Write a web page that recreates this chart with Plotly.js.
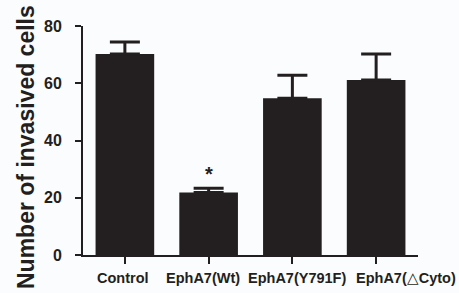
<!DOCTYPE html>
<html>
<head>
<meta charset="utf-8">
<script src="https://cdn.plot.ly/plotly-3.0.1.min.js"></script>
<style>html,body{margin:0;padding:0;background:#fbfcfd;}#chart{width:459px;height:293px;}</style>
</head>
<body>
<div id="chart"></div>
<script>
const categories = ["Control", "EphA7(Wt)", "EphA7(Y791F)", "EphA7(\u25B3Cyto)"];
const values = [70.2, 21.8, 54.8, 61.1];
const errors = [4.2, 1.5, 8.0, 9.1];
const yTicks = [0, 20, 40, 60, 80];
const significance = ["", "*", "", ""];
const yTitle = "Number of invasived cells";

const dark = "#231f20";
const fontFam = "Liberation Sans, Arial, Helvetica, sans-serif";
// label offsets (px) as laid out in the original figure
const labelShift = [-2, -6, 5, 30];

const trace = {
  type: "bar",
  x: categories,
  y: values,
  width: 0.7,
  marker: {color: dark, line: {width: 0}},
  error_y: {
    type: "data",
    symmetric: false,
    array: errors,
    arrayminus: errors.map(() => 0),
    color: dark,
    thickness: 3,
    width: 15
  },
  hoverinfo: "none"
};

const boldLabel = c => "<b>" + c.replace("\u25B3", "</b>\u25B3<b>") + "</b>";

const annotations = [];
categories.forEach((c, i) => {
  annotations.push({
    x: c, y: 0, xref: "x", yref: "paper",
    text: boldLabel(c), showarrow: false,
    xanchor: "center", yanchor: "middle",
    xshift: labelShift[i], yshift: -23,
    font: {family: fontFam, size: 14.5, color: dark}
  });
  if (significance[i]) {
    annotations.push({
      x: c, y: values[i] + errors[i], xref: "x", yref: "y",
      text: "<b>" + significance[i] + "</b>", showarrow: false, yshift: 14,
      font: {family: fontFam, size: 20, color: dark}
    });
  }
});
annotations.push({
  x: 0, y: 0.4716, xref: "paper", yref: "paper",
  text: "<b>" + yTitle + "</b>", textangle: -90, showarrow: false,
  xanchor: "center", yanchor: "middle", xshift: -57,
  font: {family: fontFam, size: 23, color: dark}
});

const layout = {
  width: 459, height: 293,
  margin: {l: 83, r: 41, t: 26, b: 38},
  paper_bgcolor: "#fbfcfd",
  plot_bgcolor: "#fbfcfd",
  showlegend: false,
  bargap: 0.3,
  xaxis: {
    type: "category",
    range: [-0.5, 3.5],
    showticklabels: false,
    showline: true, linecolor: dark, linewidth: 2,
    ticks: "outside", ticklen: 7, tickwidth: 2, tickcolor: dark,
    showgrid: false, zeroline: false
  },
  yaxis: {
    range: [0, 80],
    tickvals: yTicks,
    ticktext: yTicks.map(v => "<b>" + v + "</b>"),
    showline: true, linecolor: dark, linewidth: 2,
    ticks: "outside", ticklen: 6, tickwidth: 2, tickcolor: dark,
    showgrid: false, zeroline: false,
    ticklabelstandoff: 10,
    tickfont: {family: fontFam, size: 16, color: dark}
  },
  annotations: annotations
};

Plotly.newPlot("chart", [trace], layout, {displayModeBar: false, staticPlot: true});
</script>
</body>
</html>
